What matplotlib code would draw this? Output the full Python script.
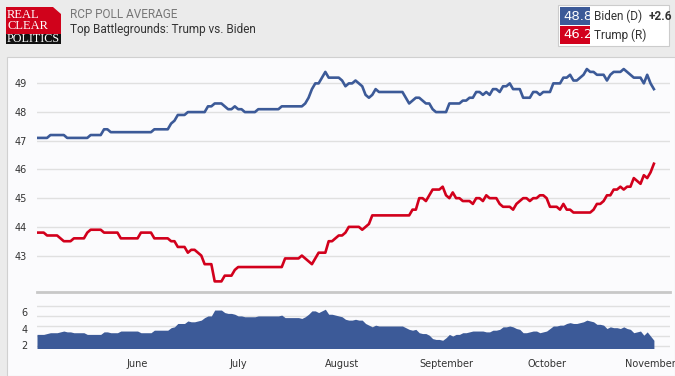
import numpy as np
import pandas as pd
import matplotlib
matplotlib.use("Agg")
import matplotlib.pyplot as plt
from matplotlib.patches import Rectangle, Polygon
from matplotlib.ticker import FixedLocator

# daily RCP averages, May 2 - Nov 2 2020
start = "2020-05-02"
biden = [
    47.1, 47.1, 47.1, 47.1, 47.2, 47.2, 47.2, 47.2, 47.2, 47.1,
    47.1, 47.1, 47.1, 47.1, 47.1, 47.1, 47.2, 47.2, 47.2, 47.2,
    47.4, 47.4, 47.3, 47.3, 47.3, 47.3, 47.3, 47.3, 47.3, 47.3,
    47.3, 47.3, 47.3, 47.3, 47.3, 47.4, 47.4, 47.4, 47.4, 47.4,
    47.6, 47.7, 47.9, 47.9, 47.9, 48.0, 48.0, 48.0, 48.0, 48.0,
    48.0, 48.2, 48.2, 48.3, 48.3, 48.3, 48.2, 48.1, 48.1, 48.2,
    48.1, 48.1, 48.0, 48.0, 48.0, 48.0, 48.1, 48.1, 48.1, 48.1,
    48.1, 48.1, 48.1, 48.2, 48.2, 48.2, 48.2, 48.2, 48.2, 48.2,
    48.3, 48.5, 48.8, 49.0, 49.0, 49.2, 49.4, 49.2, 49.2, 49.2,
    49.2, 49.1, 48.9, 49.0, 49.0, 49.1, 49.0, 48.9, 48.6, 48.5,
    48.6, 48.8, 48.7, 48.7, 48.7, 48.7, 48.7, 48.7, 48.7, 48.7,
    48.5, 48.3, 48.4, 48.5, 48.5, 48.4, 48.3, 48.3, 48.1, 48.0,
    48.0, 48.0, 48.0, 48.3, 48.3, 48.3, 48.3, 48.4, 48.4, 48.5,
    48.5, 48.7, 48.7, 48.6, 48.7, 48.6, 48.8, 48.8, 48.7, 48.9,
    48.9, 49.0, 48.8, 48.8, 48.8, 48.5, 48.5, 48.5, 48.7, 48.7,
    48.6, 48.7, 48.7, 48.7, 49.0, 49.0, 49.0, 49.2, 49.2, 49.3,
    49.1, 49.1, 49.2, 49.3, 49.5, 49.4, 49.4, 49.3, 49.3, 49.3,
    49.1, 49.3, 49.4, 49.4, 49.4, 49.5, 49.4, 49.3, 49.2, 49.2,
    49.2, 49.0, 49.3, 49.0, 48.8,
]
trump = [
    43.8, 43.8, 43.8, 43.7, 43.7, 43.7, 43.7, 43.6, 43.5, 43.5,
    43.5, 43.6, 43.6, 43.6, 43.6, 43.8, 43.9, 43.9, 43.9, 43.9,
    43.8, 43.8, 43.8, 43.8, 43.8, 43.6, 43.6, 43.6, 43.6, 43.6,
    43.6, 43.8, 43.8, 43.8, 43.8, 43.6, 43.6, 43.6, 43.6, 43.6,
    43.5, 43.5, 43.3, 43.3, 43.3, 43.1, 43.2, 43.2, 43.1, 43.0,
    42.7, 42.7, 42.7, 42.1, 42.1, 42.1, 42.3, 42.3, 42.3, 42.5,
    42.6, 42.6, 42.6, 42.6, 42.6, 42.6, 42.6, 42.6, 42.6, 42.6,
    42.6, 42.6, 42.6, 42.6, 42.9, 42.9, 42.9, 42.9, 42.9, 43.0,
    42.9, 42.8, 42.7, 42.9, 43.1, 43.1, 43.1, 43.5, 43.5, 43.6,
    43.7, 43.7, 43.8, 44.0, 44.0, 44.0, 44.0, 43.9, 44.0, 44.1,
    44.4, 44.4, 44.4, 44.4, 44.4, 44.4, 44.4, 44.4, 44.4, 44.4,
    44.4, 44.4, 44.6, 44.6, 45.0, 45.0, 44.9, 45.1, 45.3, 45.3,
    45.3, 45.4, 45.1, 45.0, 45.2, 45.0, 45.0, 44.9, 44.9, 44.9,
    44.8, 45.0, 45.0, 44.9, 45.1, 45.0, 45.0, 45.0, 44.8, 44.7,
    44.7, 44.7, 44.6, 44.8, 44.9, 45.0, 45.0, 44.9, 45.0, 45.0,
    45.1, 45.1, 45.0, 44.7, 44.7, 44.7, 44.6, 44.8, 44.6, 44.6,
    44.5, 44.5, 44.5, 44.5, 44.5, 44.5, 44.6, 44.8, 44.8, 44.9,
    45.1, 45.1, 45.3, 45.3, 45.4, 45.3, 45.4, 45.4, 45.7, 45.6,
    45.5, 45.8, 45.7, 45.9, 46.2,
]
months = ["2020-06-01", "2020-07-01", "2020-08-01", "2020-09-01", "2020-10-01", "2020-11-01"]
month_labels = ["June", "July", "August", "September", "October", "November"]
top_ticks = [43, 44, 45, 46, 47, 48, 49]
spread_ticks = [2, 4, 6]

dates = pd.date_range(start, periods=len(biden), freq="D")
biden = np.array(biden)
trump = np.array(trump)
spread = biden - trump

BLUE = "#3c5a98"
RED = "#d2001c"
PANEL = "#fbfbfd"
W, H = 675, 376

fig = plt.figure(figsize=(6.75, 3.76), dpi=100)
fig.patch.set_facecolor("#ebebeb")

def fx(px):
    return px / W

def fy(py):
    return 1 - py / H

# white chart panel, behind the axes
fig.patches.append(Rectangle((fx(7), 0), 1 - fx(7), fy(57), transform=fig.transFigure,
                             facecolor=PANEL, edgecolor="#d0d0d0", lw=0.8, zorder=-5))

# logo
fig.patches.append(Rectangle((fx(6), fy(34)), fx(55), fy(7) - fy(34), transform=fig.transFigure,
                             facecolor="#d0021b", edgecolor="none"))
fig.patches.append(Polygon([(fx(53), fy(7)), (fx(61), fy(7)), (fx(61), fy(14))], closed=True,
                           transform=fig.transFigure, facecolor="#ebebeb", edgecolor="none"))
fig.patches.append(Rectangle((fx(6), fy(44)), fx(55), fy(34) - fy(44), transform=fig.transFigure,
                             facecolor="#111111", edgecolor="none"))
serif = "Liberation Serif"
fig.text(fx(7), fy(15), "REAL", color="white", fontsize=9, family=serif, va="center")
fig.text(fx(7), fy(26), "CLEAR", color="white", fontsize=9, family=serif, va="center")
fig.text(fx(7), fy(39), "POLITICS", color="white", fontsize=8.7, family=serif, va="center")

# header titles
fig.text(fx(70), fy(14), "RCP POLL AVERAGE", color="#777777", fontsize=8.5, family="Roboto", va="center")
fig.text(fx(70), fy(29), "Top Battlegrounds: Trump vs. Biden", color="#333333", fontsize=8.5,
         family="Roboto", va="center")

# legend box
fig.patches.append(Rectangle((fx(558), fy(46)), fx(111), fy(5) - fy(46), transform=fig.transFigure,
                             facecolor="white", edgecolor="#cccccc", lw=0.8))
fig.patches.append(Rectangle((fx(560), fy(25)), fx(30), fy(7) - fy(25), transform=fig.transFigure,
                             facecolor=BLUE, edgecolor="none"))
fig.patches.append(Rectangle((fx(560), fy(44)), fx(30), fy(26) - fy(44), transform=fig.transFigure,
                             facecolor=RED, edgecolor="none"))
fig.text(fx(563), fy(16), f"{biden[-1]:.1f}", color="white", fontsize=9.5, family="DejaVu Sans",
         va="center", zorder=3)
fig.text(fx(563), fy(35), f"{trump[-1]:.1f}", color="white", fontsize=9.5, family="DejaVu Sans",
         va="center", zorder=3)
fig.text(fx(594), fy(16), "Biden (D)", color="#333333", fontsize=8.5, family="Roboto", va="center")
fig.text(fx(649), fy(16), f"+{spread[-1]:.1f}", color="#333333", fontsize=8.5, family="Roboto",
         weight="bold", va="center")
fig.text(fx(594), fy(35), "Trump (R)", color="#333333", fontsize=8.5, family="Roboto", va="center")

x0 = dates[0]
x1 = dates[0] + pd.Timedelta(days=188.8)

# main lines
ax = fig.add_axes([fx(37), fy(290), fx(633), fy(61) - fy(290)])
ax.set_facecolor(PANEL)
ax.plot(dates, biden, color=BLUE, lw=1.9)
ax.plot(dates, trump, color=RED, lw=1.9)
ax.set_xlim(x0, x1)
ax.set_ylim(41.8, 49.78)
ax.set_yticks(top_ticks)
ax.set_yticklabels([str(t) for t in top_ticks])
ax.yaxis.grid(True, color="#e0e0e0", lw=1)
ax.set_axisbelow(True)
ax.set_xticks([])
ax.tick_params(axis="y", length=0, pad=7, labelsize=7, labelcolor="#333333")
for s in ax.spines.values():
    s.set_visible(False)

# spread area
ax2 = fig.add_axes([fx(37), fy(348), fx(633), fy(292) - fy(348)])
ax2.set_facecolor(PANEL)
ax2.fill_between(dates, 0, spread, color=BLUE, lw=0)
ax2.set_xlim(x0, x1)
ax2.set_ylim(1.68, 8.35)
ax2.set_yticks(spread_ticks)
ax2.yaxis.set_minor_locator(FixedLocator([1.9, 3.1, 4.3, 5.5, 6.7]))
ax2.yaxis.grid(True, which="minor", color="#e0e0e0", lw=1)
ax2.set_axisbelow(True)
ax2.set_xticks(pd.to_datetime(months))
ax2.set_xticklabels(month_labels)
ax2.tick_params(axis="both", which="both", length=0, labelsize=7, labelcolor="#333333")
ax2.tick_params(axis="y", pad=7)
ax2.tick_params(axis="x", pad=8)
for name, s in ax2.spines.items():
    s.set_visible(name == "top")
ax2.spines["top"].set_color("#c8c8c8")
ax2.spines["top"].set_linewidth(2)

fig.savefig("out.png", dpi=100, facecolor=fig.get_facecolor())
